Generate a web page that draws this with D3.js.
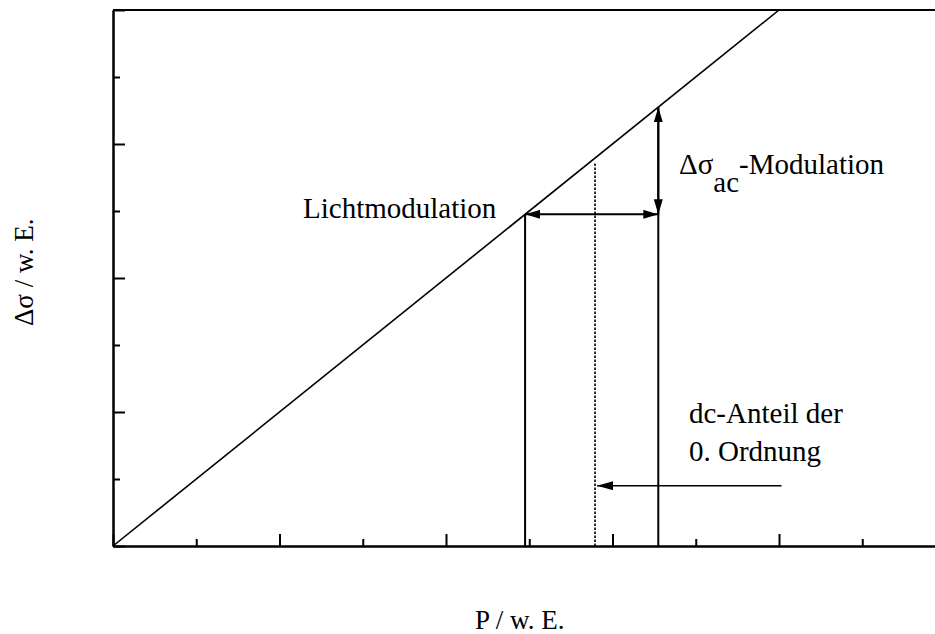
<!DOCTYPE html>
<html>
<head>
<meta charset="utf-8">
<script src="https://cdn.jsdelivr.net/npm/d3@7"></script>
<style>
  html, body { margin: 0; padding: 0; background: #fff; }
  svg { display: block; }
</style>
</head>
<body>
<svg id="chart" width="935" height="634"></svg>
<script>
// Axis ticks (arbitrary units, no numeric labels)
const xMajorTicks = [0, 2, 4, 6, 8, 10];
const xMinorTicks = [1, 3, 5, 7, 9];
const yMajorTicks = [0, 2, 4, 6, 8];
const yMinorTicks = [1, 3, 5, 7];

// Linear response Δσ = P
const responseLine = [[0, 0], [8, 8]];

// Light modulation range on the P axis
const modLow = 4.95;
const modHigh = 6.55;

// dc component of the 0th order (dashed marker) and its pointer arrow
const dcLevel = 5.79;
const dcTop = 5.72;
const dcArrowFrom = 8.03;
const dcArrowY = 0.9;

// Labels
const xTitle = "P / w. E.";
const yTitle = "Δσ / w. E.";
const lightLabel = "Lichtmodulation";
const dcLabelLines = ["dc-Anteil der", "0. Ordnung"];

const FONT = "'Liberation Serif', 'Times New Roman', Times, serif";

const svg = d3.select("#chart");
const plotLeft = 113, plotTop = 10, plotBottom = 546;
const x = d3.scaleLinear().domain([0, 10]).range([plotLeft, plotLeft + 10 * 83.25]);
const y = d3.scaleLinear().domain([0, 8]).range([plotBottom, plotTop]);

// arrowheads
const defs = svg.append("defs");
function marker(id, len, half) {
  defs.append("marker")
    .attr("id", id)
    .attr("viewBox", `0 ${-half} ${len} ${2 * half}`)
    .attr("refX", len).attr("refY", 0)
    .attr("markerUnits", "userSpaceOnUse")
    .attr("markerWidth", len).attr("markerHeight", 2 * half)
    .attr("orient", "auto-start-reverse")
    .append("path")
    .attr("d", `M0,${-half}L${len},0L0,${half}Z`)
    .attr("fill", "#000");
}
marker("head", 15, 4.5);
marker("headDc", 16, 4.5);

// frame
const g = svg.append("g");
g.append("line").attr("x1", plotLeft).attr("x2", 935).attr("y1", plotTop).attr("y2", plotTop)
  .attr("stroke", "#000").attr("stroke-width", 2);

// axes with inward ticks
function styleAxis(sel) {
  sel.select(".domain").attr("stroke-width", 2);
  sel.selectAll(".tick line").attr("stroke-width", 2);
  sel.selectAll(".tick text").remove();
}
g.append("g").attr("transform", `translate(0,${plotBottom})`)
  .call(d3.axisBottom(x).tickValues(xMajorTicks).tickSize(-12).tickSizeOuter(0).tickFormat(""))
  .call(styleAxis);
g.append("g").attr("transform", `translate(0,${plotBottom})`)
  .call(d3.axisBottom(x).tickValues(xMinorTicks).tickSize(-7).tickSizeOuter(0).tickFormat(""))
  .call(styleAxis);
g.append("g").attr("transform", `translate(${plotLeft},0)`)
  .call(d3.axisLeft(y).tickValues(yMajorTicks).tickSize(-12).tickSizeOuter(0).tickFormat(""))
  .call(styleAxis);
g.append("g").attr("transform", `translate(${plotLeft},0)`)
  .call(d3.axisLeft(y).tickValues(yMinorTicks).tickSize(-7).tickSizeOuter(0).tickFormat(""))
  .call(styleAxis);

// response line
g.append("path")
  .attr("d", d3.line().x(d => x(d[0])).y(d => y(d[1]))(responseLine))
  .attr("fill", "none").attr("stroke", "#000").attr("stroke-width", 1.6);

// modulation boundaries
[modLow, modHigh].forEach(p => {
  g.append("line")
    .attr("x1", x(p)).attr("x2", x(p)).attr("y1", y(0)).attr("y2", y(p))
    .attr("stroke", "#000").attr("stroke-width", 2);
});

// horizontal double arrow: light modulation
g.append("line")
  .attr("x1", x(modLow)).attr("x2", x(modHigh)).attr("y1", y(modLow)).attr("y2", y(modLow))
  .attr("stroke", "#000").attr("stroke-width", 2)
  .attr("marker-start", "url(#head)").attr("marker-end", "url(#head)");

// vertical double arrow: Δσ_ac modulation
g.append("line")
  .attr("x1", x(modHigh)).attr("x2", x(modHigh)).attr("y1", y(modHigh)).attr("y2", y(modLow))
  .attr("stroke", "#000").attr("stroke-width", 2)
  .attr("marker-start", "url(#head)").attr("marker-end", "url(#head)");

// dashed dc marker
g.append("line")
  .attr("x1", x(dcLevel)).attr("x2", x(dcLevel)).attr("y1", y(0)).attr("y2", y(dcTop))
  .attr("stroke", "#000").attr("stroke-width", 1.6).attr("stroke-dasharray", "2.5,1.5");

// dc pointer arrow
g.append("line")
  .attr("x1", x(dcArrowFrom)).attr("x2", x(dcLevel) + 2).attr("y1", y(dcArrowY)).attr("y2", y(dcArrowY))
  .attr("stroke", "#000").attr("stroke-width", 1.4)
  .attr("marker-end", "url(#headDc)");

// labels
function label(px, py, size) {
  return g.append("text").attr("x", px).attr("y", py)
    .attr("font-family", FONT).attr("font-size", size).attr("fill", "#000");
}
const fs = 29;
label(303, 218, fs).text(lightLabel);

const ac = label(679, 174, fs);
ac.append("tspan").text("Δσ");
ac.append("tspan").attr("dy", 18).text("ac");
ac.append("tspan").attr("dy", -18).text("-Modulation");

dcLabelLines.forEach((t, i) => label(689, 423 + i * 38, fs).text(t));

label(475, 629, 27).text(xTitle);
g.append("text")
  .attr("transform", "translate(33,326) rotate(-90)")
  .attr("font-family", FONT).attr("font-size", 27).text(yTitle);
</script>
</body>
</html>
